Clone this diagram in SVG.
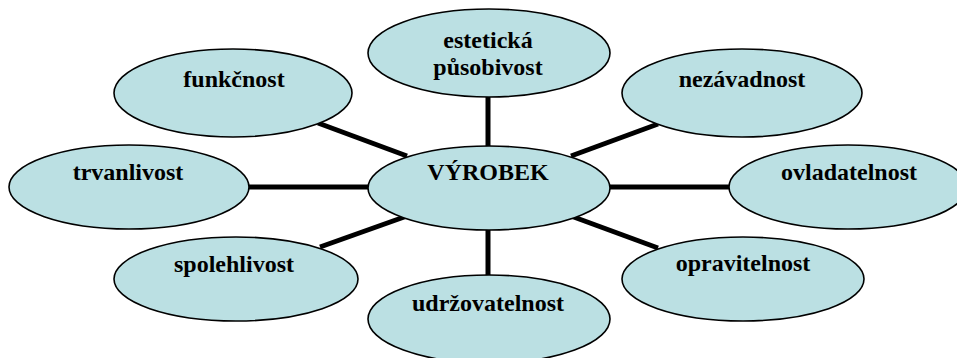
<svg xmlns="http://www.w3.org/2000/svg" width="957" height="358" viewBox="0 0 957 358">
  <style>
    .node ellipse { fill: #BBE0E3; stroke: #000; stroke-width: 1.6; }
    .node text { font-family: 'Liberation Serif', 'DejaVu Serif', serif; font-weight: 700; font-size: 24px; fill: #000; text-anchor: middle; }
    #connectors line { stroke: #000; stroke-width: 5; stroke-linecap: butt; }
  </style>
  <rect width="957" height="358" fill="#fff"/>

  <!-- spokes from the central node -->
  <g id="connectors">
    <line x1="488" y1="95" x2="488" y2="148"/>
    <line x1="488" y1="228" x2="488" y2="277"/>
    <line x1="248" y1="187" x2="370" y2="187"/>
    <line x1="608" y1="187" x2="730" y2="187"/>
    <line x1="318" y1="123" x2="407" y2="156"/>
    <line x1="320" y1="247" x2="407" y2="216"/>
    <line x1="571" y1="156" x2="658" y2="124"/>
    <line x1="571" y1="216" x2="658" y2="248"/>
  </g>

  <g id="estetika" class="node">
    <ellipse cx="489" cy="53" rx="121" ry="44"/>
    <text x="488" y="48">estetická</text>
    <text x="488" y="75">působivost</text>
  </g>
  <g id="funkcnost" class="node">
    <ellipse cx="233" cy="93" rx="119" ry="44"/>
    <text x="234" y="87">funkčnost</text>
  </g>
  <g id="nezavadnost" class="node">
    <ellipse cx="742" cy="93" rx="120" ry="44"/>
    <text x="742" y="87">nezávadnost</text>
  </g>
  <g id="trvanlivost" class="node">
    <ellipse cx="129" cy="187" rx="120" ry="42"/>
    <text x="128" y="180">trvanlivost</text>
  </g>
  <g id="vyrobek" class="node">
    <ellipse cx="489" cy="188" rx="121" ry="42"/>
    <text x="488" y="180">VÝROBEK</text>
  </g>
  <g id="ovladatelnost" class="node">
    <ellipse cx="848" cy="187" rx="119" ry="42"/>
    <text x="849" y="180">ovladatelnost</text>
  </g>
  <g id="spolehlivost" class="node">
    <ellipse cx="236" cy="279" rx="122" ry="42"/>
    <text x="234" y="272">spolehlivost</text>
  </g>
  <g id="opravitelnost" class="node">
    <ellipse cx="743" cy="279" rx="121" ry="42"/>
    <text x="743" y="271">opravitelnost</text>
  </g>
  <g id="udrzovatelnost" class="node">
    <ellipse cx="489" cy="319" rx="121" ry="44"/>
    <text x="488" y="311">udržovatelnost</text>
  </g>
</svg>
